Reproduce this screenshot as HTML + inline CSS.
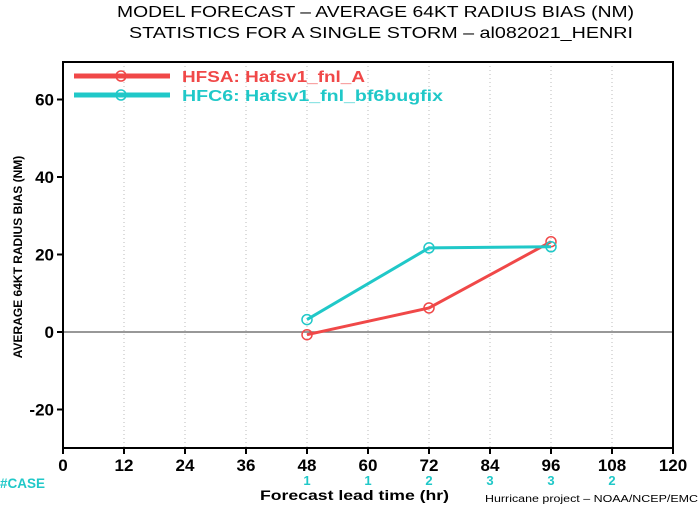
<!DOCTYPE html>
<html><head><meta charset="utf-8"><style>
body{margin:0;background:#fff;}
svg{display:block;font-family:"Liberation Sans",sans-serif;font-weight:bold;}
</style></head><body>
<svg id="c" width="700" height="506">
<text x="117" y="17" font-size="16" font-weight="normal" textLength="517" lengthAdjust="spacingAndGlyphs">MODEL FORECAST – AVERAGE 64KT RADIUS BIAS (NM)</text>
<text x="129" y="38" font-size="16" font-weight="normal" textLength="504" lengthAdjust="spacingAndGlyphs">STATISTICS FOR A SINGLE STORM – al082021_HENRI</text>
<g id="grid"></g>
<rect x="63" y="62" width="610" height="386" fill="none" stroke="#000" stroke-width="2"/>
<g id="axes"></g>
<g id="series"></g>
<g>
<line x1="74" y1="76" x2="170" y2="76" stroke="#f04848" stroke-width="5"/>
<circle cx="121" cy="76" r="5" fill="none" stroke="#f04848" stroke-width="1.5"/>
<text x="182" y="82" font-size="16" fill="#f04848" textLength="183" lengthAdjust="spacingAndGlyphs">HFSA: Hafsv1_fnl_A</text>
<line x1="74" y1="95" x2="170" y2="95" stroke="#20c8c8" stroke-width="5"/>
<circle cx="121" cy="95" r="5" fill="none" stroke="#20c8c8" stroke-width="1.5"/>
<text x="182" y="101" font-size="16" fill="#20c8c8" textLength="261" lengthAdjust="spacingAndGlyphs">HFC6: Hafsv1_fnl_bf6bugfix</text>
</g>
<text x="22" y="257" transform="rotate(-90 22 257)" text-anchor="middle" font-size="12">AVERAGE 64KT RADIUS BIAS (NM)</text>
<text x="0" y="488" font-size="14" fill="#20c8c8" textLength="45" lengthAdjust="spacingAndGlyphs">#CASE</text>
<text x="260" y="500" font-size="14" textLength="189" lengthAdjust="spacingAndGlyphs">Forecast lead time (hr)</text>
<text x="485" y="502" font-size="10" font-weight="normal" textLength="213" lengthAdjust="spacingAndGlyphs">Hurricane project – NOAA/NCEP/EMC</text>
</svg>
<script>
const xTicks=[0,12,24,36,48,60,72,84,96,108,120];
const yTicks=[-20,0,20,40,60];
const leadTimes=[48,72,96];
const hfsa=[-0.7,6.2,23.3];
const hfc6=[3.2,21.7,22.0];
const caseHours=[48,60,72,84,96,108];
const caseCounts=[1,1,2,3,3,2];
const NS="http://www.w3.org/2000/svg";
const X=v=>63+v*610/120;
const Y=v=>332-v*3.875;
function mk(p,t,a){const e=document.createElementNS(NS,t);for(const k in a)e.setAttribute(k,a[k]);p.appendChild(e);return e;}
const g=document.getElementById('grid'),ax=document.getElementById('axes'),s=document.getElementById('series');
xTicks.forEach(t=>{
 if(t>0&&t<120){const l=mk(g,'line',{x1:X(t),x2:X(t),y1:62,y2:448,stroke:'#bbb','stroke-dasharray':'1,3'});
 }
 const tk=mk(ax,'line',{x1:X(t),x2:X(t),y1:448,y2:454,stroke:'#000','stroke-width':2});
 
 const tx=mk(ax,'text',{x:X(t),y:471,'text-anchor':'middle','font-size':17});tx.textContent=t;
 
});
yTicks.forEach(t=>{
 const tk=mk(ax,'line',{x1:57,x2:63,y1:Y(t),y2:Y(t),stroke:'#000','stroke-width':2});
 
 const tx=mk(ax,'text',{x:54,y:Y(t)+6,'text-anchor':'end','font-size':17});tx.textContent=t;
 
});
const z=mk(g,'line',{x1:63,x2:673,y1:Y(0),y2:Y(0),stroke:'#777','stroke-width':1.5});

caseHours.forEach((h,i)=>{const t=mk(ax,'text',{x:X(h),y:485,'text-anchor':'middle','font-size':13,fill:'#20c8c8'});t.textContent=caseCounts[i];
 });
function draw(vals,col,name){
 const pl=mk(s,'polyline',{points:leadTimes.map((h,i)=>X(h)+','+Y(vals[i])).join(' '),fill:'none',stroke:col,'stroke-width':3});
 
 leadTimes.forEach((h,i)=>{const c=mk(s,'circle',{cx:X(h),cy:Y(vals[i]),r:5,fill:'none',stroke:col,'stroke-width':1.5});
 });
}
draw(hfsa,'#f04848','hfsa');
draw(hfc6,'#20c8c8','hfc6');
</script>
</body></html>
